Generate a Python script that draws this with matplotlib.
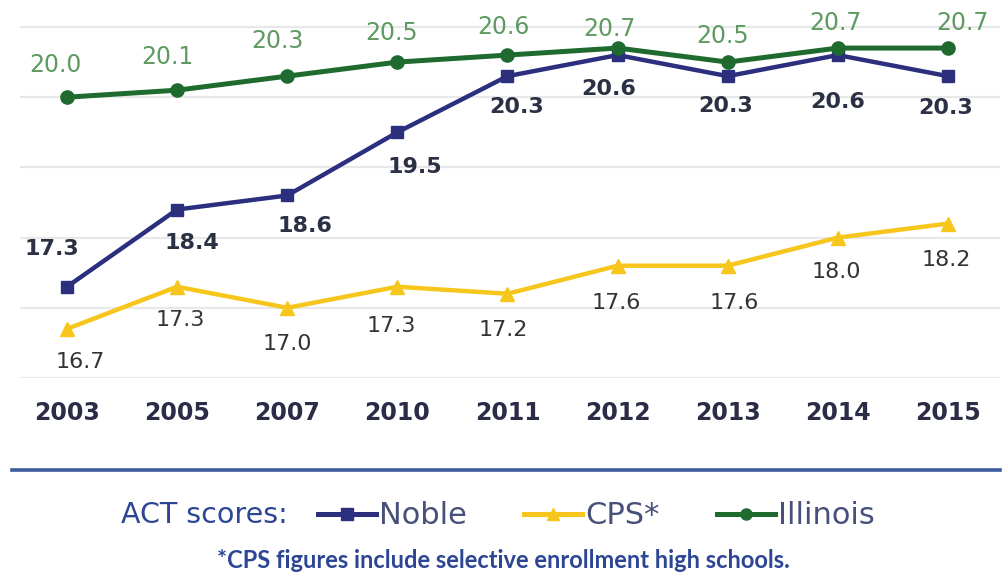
import matplotlib
matplotlib.use('Agg')
import matplotlib.pyplot as plt
from matplotlib.lines import Line2D

# ---- data ----
years = ['2003', '2005', '2007', '2010', '2011', '2012', '2013', '2014', '2015']
noble = [17.3, 18.4, 18.6, 19.5, 20.3, 20.6, 20.3, 20.6, 20.3]
cps = [16.7, 17.3, 17.0, 17.3, 17.2, 17.6, 17.6, 18.0, 18.2]
illinois = [20.0, 20.1, 20.3, 20.5, 20.6, 20.7, 20.5, 20.7, 20.7]
series_names = ['Noble', 'CPS*', 'Illinois']
legend_title = 'ACT scores:'
footnote = '*CPS figures include selective enrollment high schools.'

# ---- styles ----
NAVY = '#2b2f7e'
YELLOW = '#f6c61c'
GREEN = '#1f6a2f'
GREEN_TXT = '#5e9a62'
NOBLE_TXT = '#2c3044'
CPS_TXT = '#333333'
TICK_TXT = '#2a2d45'
BLUE_TXT = '#2c4595'
LEG_TXT = '#47507a'
RULE = '#3b5b9b'
GRID = '#e8e8e8'

PX = 0.72  # px -> pt at dpi 100

# label offsets (px): (dx, dy) dy positive = up
ill_off = [(-12, 32), (-10, 33), (-10, 35), (-6, 29), (-4, 28), (-8, 19), (-5, 26), (-2, 25), (14, 25)]
nob_off = [(-15, 38), (15, -33), (18, -31), (17, -35), (9, -31), (-9, -34), (-2, -30), (0, -47), (-2, -32)]
cps_off = [(13, -33), (3, -33), (0, -36), (-6, -39), (-4, -36), (-1, -37), (7, -37), (-2, -34), (-2, -36)]

W, H = 1007, 574
fig = plt.figure(figsize=(W / 100, H / 100), dpi=100)
fig.patch.set_facecolor('white')

# axes: x positions 0..8 -> px 67..948 ; y 16 -> px 378, 21 -> px 27
x_left_px, x_right_px = 20, 1000
px_per_x = (948 - 67) / 8
xmin = -(67 - x_left_px) / px_per_x
xmax = 8 + (x_right_px - 948) / px_per_x
px_per_y = (378 - 27) / 5
ymin, ymax = 16, 21 + 22 / px_per_y
ax_bottom_px = 378
ax_top_px = 378 - (ymax - ymin) * px_per_y
ax = fig.add_axes([x_left_px / W, (H - ax_bottom_px) / H,
                   (x_right_px - x_left_px) / W, (ax_bottom_px - ax_top_px) / H])
ax.set_xlim(xmin, xmax)
ax.set_ylim(ymin, ymax)
for s in ax.spines.values():
    s.set_visible(False)
ax.set_yticks([16, 17, 18, 19, 20, 21])
ax.yaxis.grid(True, color=GRID, lw=1.6)
ax.set_axisbelow(True)
ax.tick_params(axis='y', left=False, labelleft=False)
xs = list(range(len(years)))
ax.set_xticks(xs)
ax.set_xticklabels(years, fontweight='bold', fontsize=17, color=TICK_TXT)
ax.tick_params(axis='x', bottom=False, pad=13)

ax.plot(xs, noble, color=NAVY, lw=3.2, marker='s', ms=9, zorder=3)
ax.plot(xs, cps, color=YELLOW, lw=3.2, marker='^', ms=10, zorder=3)
ax.plot(xs, illinois, color=GREEN, lw=3.6, marker='o', ms=9.5, zorder=4)

for x, v, (dx, dy) in zip(xs, illinois, ill_off):
    ax.annotate(f'{v:.1f}', (x, v), xytext=(dx * PX, dy * PX), textcoords='offset points',
                ha='center', va='center', fontsize=17, color=GREEN_TXT, zorder=5)
for x, v, (dx, dy) in zip(xs, noble, nob_off):
    ax.annotate(f'{v:.1f}', (x, v), xytext=(dx * PX, dy * PX), textcoords='offset points',
                ha='center', va='center', fontsize=16, fontweight='bold', color=NOBLE_TXT, zorder=5)
for x, v, (dx, dy) in zip(xs, cps, cps_off):
    ax.annotate(f'{v:.1f}', (x, v), xytext=(dx * PX, dy * PX), textcoords='offset points',
                ha='center', va='center', fontsize=16, color=CPS_TXT, zorder=5)

# separator rule
fig.add_artist(Line2D([12 / W, 1000 / W], [(H - 470) / H] * 2, color=RULE, lw=2.6))

# legend
fig.text(204 / W, (H - 515) / H, legend_title, ha='center', va='center',
         fontsize=20.5, color=BLUE_TXT)
handles = [Line2D([], [], color=NAVY, lw=3.6, marker='s', ms=8),
           Line2D([], [], color=YELLOW, lw=3.6, marker='^', ms=8),
           Line2D([], [], color=GREEN, lw=3.6, marker='o', ms=8)]
leg = fig.legend(handles, series_names, loc='center left', bbox_to_anchor=(318 / W, (H - 516) / H),
                 ncol=3, frameon=False, handlelength=1.9, handletextpad=0.08, columnspacing=1.9,
                 prop={'size': 22}, borderaxespad=0, borderpad=0)
for t in leg.get_texts():
    t.set_color(LEG_TXT)

fig.text(503 / W, (H - 561) / H, footnote, ha='center', va='center',
         family=['Lato', 'DejaVu Sans'], fontweight='bold', fontsize=17, color=BLUE_TXT)

fig.savefig('out.png', dpi=100)
